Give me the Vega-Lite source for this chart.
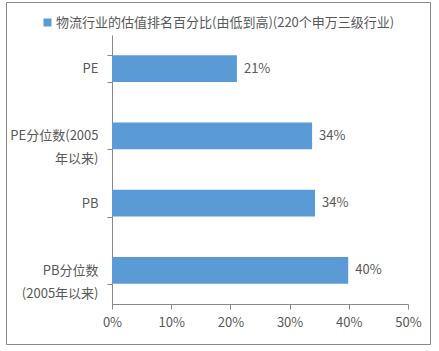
{
  "$schema": "https://vega.github.io/schema/vega-lite/v6.json",
  "width": 424,
  "height": 342,
  "autosize": {"type": "none"},
  "padding": {"left": 6, "top": 2, "right": 9, "bottom": 7},
  "background": "white",
  "config": {
    "view": {"stroke": "#898989", "strokeWidth": 1},
    "font": "Noto Sans CJK SC"
  },
  "data": {
    "values": [
      {"cat": "PE", "v": 0.211, "series": "物流行业的估值排名百分比(由低到高)(220个申万三级行业)"},
      {"cat": "PE分位数(2005|年以来)", "v": 0.338, "series": "物流行业的估值排名百分比(由低到高)(220个申万三级行业)"},
      {"cat": "PB", "v": 0.343, "series": "物流行业的估值排名百分比(由低到高)(220个申万三级行业)"},
      {"cat": "PB分位数|(2005年以来)", "v": 0.399, "series": "物流行业的估值排名百分比(由低到高)(220个申万三级行业)"}
    ]
  },
  "encoding": {
    "y": {
      "field": "cat",
      "type": "nominal",
      "sort": null,
      "scale": {"range": [33, 302], "paddingInner": 0.6, "paddingOuter": 0.3},
      "axis": {
        "title": null,
        "tickBand": "extent",
        "tickSize": 5,
        "labelPadding": 9,
        "offset": -106,
        "domainColor": "#898989",
        "tickColor": "#898989",
        "labelColor": "#595959",
        "labelFontSize": 13,
        "labelExpr": "split(datum.label, '|')",
        "labelLineHeight": 23,
        "grid": false
      }
    },
    "x": {
      "field": "v",
      "type": "quantitative",
      "scale": {"domain": [0, 0.5], "range": [106, 402]},
      "axis": {
        "title": null,
        "format": "%",
        "values": [0, 0.1, 0.2, 0.3, 0.4, 0.5],
        "labelFlush": false,
        "labelOverlap": false,
        "tickSize": 5,
        "labelPadding": 7,
        "offset": -40,
        "domainColor": "#898989",
        "tickColor": "#898989",
        "labelColor": "#595959",
        "labelFontSize": 13,
        "grid": false
      }
    }
  },
  "layer": [
    {
      "mark": {"type": "bar"},
      "encoding": {
        "color": {
          "field": "series",
          "type": "nominal",
          "scale": {"range": ["#5B9BD5"]},
          "legend": {
            "title": null,
            "orient": "none",
            "legendX": 35,
            "legendY": 14,
            "symbolType": "square",
            "symbolSize": 64,
            "symbolStrokeWidth": 0,
            "labelFontSize": 13,
            "labelColor": "#595959",
            "labelLimit": 500,
            "labelOffset": 2,
            "padding": 0
          }
        }
      }
    },
    {
      "mark": {"type": "text", "align": "left", "dx": 7, "color": "#595959", "fontSize": 13},
      "encoding": {"text": {"field": "v", "type": "quantitative", "format": ".0%"}}
    }
  ]
}
